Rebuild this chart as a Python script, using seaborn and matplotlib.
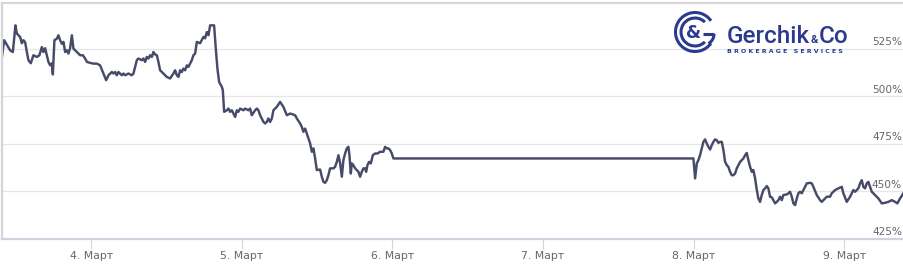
import matplotlib
matplotlib.use("Agg")
import matplotlib.pyplot as plt
from matplotlib.patches import Arc
import numpy as np
import pandas as pd
import seaborn as sns

# ---- data (hours from 4 March 00:00, balance growth in %) ----
hours = [
    -14.34, -13.86, -12.90, -12.47, -12.06, -11.84, -11.58, -11.31, -11.04, -10.78,
    -10.51, -10.24, -9.99, -9.61, -9.19, -8.65, -8.24, -7.85, -7.60, -7.33,
    -7.06, -6.80, -6.53, -6.26, -6.10, -5.85, -5.46, -5.21, -4.94, -4.67,
    -4.41, -4.14, -3.87, -3.62, -3.35, -3.07, -2.82, -2.28, -1.75, -1.32,
    -0.96, -0.68, -0.16, 0.37, 0.91, 1.43, 1.96, 2.39, 2.76, 3.30,
    3.55, 3.82, 4.09, 4.35, 4.89, 5.15, 5.42, 5.94, 6.48, 6.74,
    7.28, 7.53, 8.08, 8.33, 8.60, 8.87, 9.13, 9.40, 9.67, 9.92,
    10.20, 10.47, 10.72, 10.99, 11.52, 12.06, 12.58, 13.11, 13.38, 13.65,
    13.91, 14.18, 14.45, 14.70, 14.97, 15.25, 15.50, 15.77, 16.04, 16.30,
    16.57, 16.84, 17.36, 17.89, 18.16, 18.43, 18.69, 18.96, 19.59, 19.86,
    20.12, 20.39, 20.82, 20.98, 21.19, 21.62, 21.87, 22.14, 22.41, 22.67,
    22.94, 23.21, 23.46, 23.74, 24.26, 24.53, 25.06, 25.33, 25.60, 26.13,
    26.40, 26.65, 26.92, 27.45, 27.72, 27.99, 28.24, 28.51, 28.79, 29.04,
    29.58, 30.11, 30.63, 31.18, 31.70, 32.50, 32.77, 33.29, 33.56, 33.82,
    34.09, 34.36, 34.62, 34.89, 35.16, 35.41, 35.68, 35.95, 36.48, 36.75,
    37.01, 37.28, 37.55, 37.80, 38.07, 38.60, 38.87, 39.14, 39.40, 39.67,
    39.94, 40.19, 40.46, 40.73, 40.99, 41.15, 41.37, 41.53, 41.78, 42.06,
    42.58, 42.85, 43.12, 43.38, 43.65, 43.81, 44.02, 44.29, 44.56, 44.88,
    45.24, 45.61, 46.04, 46.56, 46.83, 47.10, 47.36, 47.63, 47.90, 48.16,
    95.95, 96.22, 96.49, 96.74, 97.01, 97.28, 97.54, 97.81, 98.08, 98.34,
    98.61, 98.88, 99.13, 99.40, 99.67, 99.93, 100.20, 100.47, 100.73, 101.00,
    101.27, 101.52, 101.79, 102.06, 102.32, 102.59, 102.86, 103.12, 103.39, 103.91,
    104.18, 104.45, 104.71, 104.98, 105.25, 105.50, 105.78, 106.05, 106.30, 106.57,
    106.84, 107.10, 107.37, 107.64, 107.89, 108.16, 108.44, 108.69, 108.96, 109.23,
    109.49, 109.76, 110.03, 110.28, 110.83, 111.08, 111.35, 111.62, 111.88, 112.15,
    112.42, 112.67, 112.94, 113.21, 113.47, 114.01, 114.54, 114.81, 115.06, 115.60,
    116.13, 116.40, 116.93, 117.20, 117.72, 117.99, 118.52, 119.05, 119.59, 119.84,
    120.38, 120.91, 121.43, 121.71, 122.23, 122.50, 122.77, 123.03, 123.30, 123.57,
    123.82, 124.09, 124.37, 124.89, 125.42, 125.96, 126.48, 127.01, 127.55, 128.08,
    128.44, 128.87, 129.40,
]
growth_pct = [
    517.3, 529.4, 524.1, 523.2, 537.2, 533.0, 532.0, 531.1, 527.8, 529.4,
    528.3, 523.2, 518.9, 517.3, 521.5, 520.6, 521.5, 525.8, 523.2, 525.2,
    521.5, 518.0, 516.2, 517.3, 511.4, 529.4, 530.2, 532.0, 529.4, 527.6,
    528.5, 523.2, 524.1, 522.4, 525.2, 532.0, 525.0, 523.2, 521.5, 521.5,
    519.8, 518.0, 517.5, 517.1, 517.1, 516.2, 511.9, 508.4, 511.0, 512.7,
    511.9, 512.7, 511.0, 512.7, 511.0, 511.9, 511.0, 511.9, 511.0, 511.9,
    518.9, 519.8, 518.9, 519.8, 518.0, 520.6, 519.8, 521.5, 520.6, 523.2,
    521.9, 521.5, 518.0, 513.6, 511.9, 510.1, 509.3, 511.9, 513.6, 511.0,
    510.1, 513.6, 512.7, 514.5, 513.6, 516.2, 515.4, 517.1, 518.9, 521.5,
    522.4, 528.5, 527.8, 531.1, 530.4, 533.7, 532.0, 537.2, 537.2, 525.0,
    514.5, 507.5, 504.9, 503.1, 491.8, 492.6, 493.5, 491.8, 492.6, 490.9,
    489.1, 492.6, 491.8, 493.5, 492.6, 493.5, 492.6, 493.5, 490.0, 492.6,
    493.5, 492.6, 490.0, 486.5, 485.7, 486.5, 488.3, 486.5, 488.3, 492.6,
    494.4, 497.0, 494.4, 490.0, 490.9, 490.0, 488.3, 485.7, 483.9, 481.3,
    483.0, 480.4, 477.8, 475.2, 470.8, 472.6, 467.5, 461.2, 461.5, 457.7,
    455.0, 454.5, 455.9, 458.5, 462.1, 462.1, 462.9, 465.5, 469.0, 464.7,
    457.7, 466.4, 469.9, 472.6, 473.4, 469.0, 459.4, 464.7, 463.8, 462.1,
    460.3, 457.7, 460.3, 462.1, 462.1, 460.3, 463.8, 465.5, 464.7, 469.0,
    469.9, 469.9, 470.8, 470.8, 473.4, 472.6, 472.6, 471.7, 469.9, 467.3,
    467.3, 456.8, 464.7, 466.4, 469.0, 472.6, 476.0, 477.3, 475.2, 473.4,
    472.0, 474.3, 476.0, 477.3, 476.9, 475.5, 476.0, 476.0, 471.7, 465.5,
    463.8, 462.9, 460.3, 458.5, 458.5, 459.4, 462.1, 463.8, 465.5, 467.3,
    469.0, 470.2, 466.4, 462.9, 460.3, 461.2, 456.8, 450.7, 446.3, 444.5,
    448.1, 450.7, 451.6, 452.8, 451.6, 447.2, 446.9, 445.4, 443.7, 444.5,
    445.4, 447.2, 445.4, 448.1, 448.4, 449.0, 449.8, 447.2, 443.7, 442.8,
    446.3, 449.0, 449.8, 449.0, 450.7, 454.2, 454.5, 454.2, 452.4, 448.1,
    445.4, 444.5, 446.3, 447.2, 447.2, 449.0, 450.7, 451.6, 452.4, 449.0,
    444.5, 447.2, 450.7, 449.8, 451.6, 454.2, 455.9, 452.4, 451.6, 454.2,
    455.0, 452.4, 449.8, 448.1, 446.3, 443.7, 444.0, 444.5, 445.4, 444.5,
    443.7, 446.3, 449.0,
]
x_tick_hours = [0, 24, 48, 72, 96, 120]
x_tick_labels = ["4. Март", "5. Март", "6. Март", "7. Март", "8. Март", "9. Март"]
y_tick_values = [425, 450, 475, 500, 525]
y_tick_labels = ["425%", "450%", "475%", "500%", "525%"]

df = pd.DataFrame({"hours": hours, "growth": growth_pct})

W, H = 904, 268
fig = plt.figure(figsize=(W / 100, H / 100), dpi=100)
fig.patch.set_facecolor("white")

# plot area in pixel terms: x 2..904, y 2.5..239
ax = fig.add_axes([2 / W, (H - 239) / H, (W - 2) / W, (239 - 2.5) / H])
ax.set_facecolor("white")

sns.lineplot(data=df, x="hours", y="growth", ax=ax, color="#474b69",
             linewidth=1.75, estimator=None, sort=False, legend=False)

ax.set_xlim(-14.2, 129.5)
ax.set_ylim(425, 549.2)
ax.set_xlabel("")
ax.set_ylabel("")

ax.set_yticks(y_tick_values)
ax.yaxis.grid(True, color="#e6e6e6", linewidth=0.9)
ax.xaxis.grid(False)
ax.set_axisbelow(True)
ax.tick_params(axis="y", left=False, labelleft=False)

ax.set_xticks(x_tick_hours)
ax.set_xticklabels(x_tick_labels)
ax.tick_params(axis="x", direction="out", length=7, width=0.8, color="#ccd6eb",
               labelsize=7.8, labelcolor="#666666", pad=1.5)

for name in ["top", "left"]:
    ax.spines[name].set_color("#d6d6d8")
    ax.spines[name].set_linewidth(1.6)
ax.spines["bottom"].set_color("#cdd2dc")
ax.spines["bottom"].set_linewidth(1.6)
ax.spines["right"].set_visible(False)

for v, lab in zip(y_tick_values, y_tick_labels):
    ax.annotate(lab, xy=((902 - 2) / (W - 2), v), xycoords=("axes fraction", "data"),
                xytext=(0, 4.7), textcoords="offset points", ha="right", va="center",
                fontsize=7.6, color="#666666", annotation_clip=False)

# ---- logo overlay (pixel coordinates) ----
ov = fig.add_axes([0, 0, 1, 1])
ov.set_xlim(0, W)
ov.set_ylim(H, 0)
ov.axis("off")
logo = "#2b3990"
ov.add_patch(Arc((695, 32), 39, 39, theta1=35, theta2=325, color=logo, lw=2.2))
ov.add_patch(Arc((695, 32), 28, 28, theta1=45, theta2=315, color=logo, lw=2.2))
ov.plot([703, 714], [34, 34], color=logo, lw=2.2, solid_capstyle="butt")
ov.add_patch(Arc((703, 34), 22, 22, theta1=0, theta2=60, color=logo, lw=2.2))
ov.text(694, 33, "&", fontsize=12.5, fontweight="bold", color=logo,
        ha="center", va="center", family="DejaVu Sans")
ov.text(726.5, 43, "Gerchik", fontsize=17.5, fontweight="medium", color=logo,
        ha="left", va="baseline", family="Roboto")
ov.text(810.5, 43, "&", fontsize=8, fontweight="bold", color=logo,
        ha="left", va="baseline", family="Roboto")
ov.text(818.5, 43, "Co", fontsize=17.5, fontweight="medium", color=logo,
        ha="left", va="baseline", family="Roboto")
ov.text(727, 53, "B R O K E R A G E   S E R V I C E S", fontsize=4.5,
        fontweight="bold", color=logo, ha="left", va="baseline", family="DejaVu Sans")

fig.savefig("out.png", dpi=100, facecolor="white")
